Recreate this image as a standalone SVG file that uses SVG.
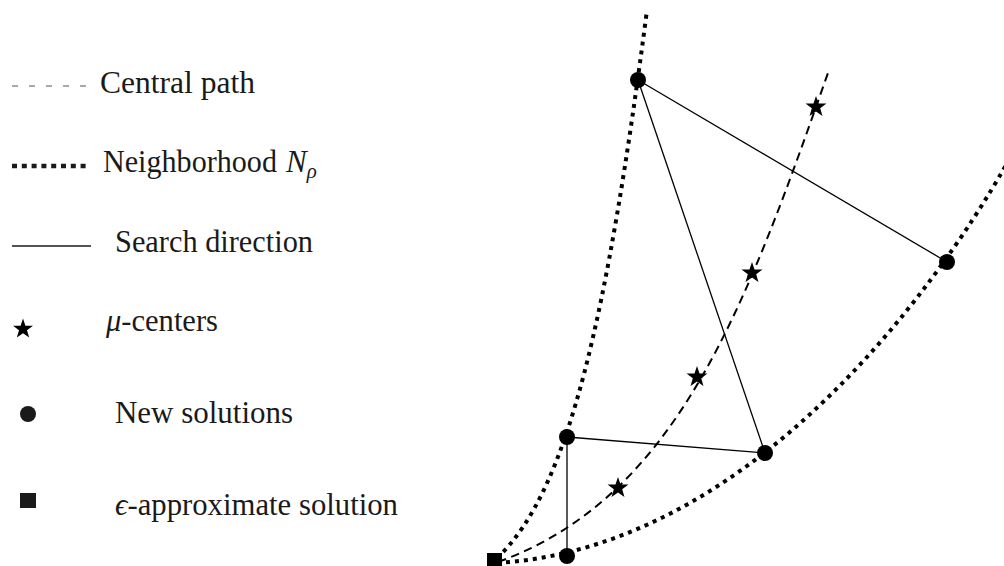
<svg xmlns="http://www.w3.org/2000/svg" width="1004" height="566" viewBox="0 0 1004 566">
<style>
text{font-family:"Liberation Serif","DejaVu Serif",serif;font-size:31px;fill:#1a1a1a}
.it{font-style:italic}
.dot{fill:none;stroke:#000;stroke-width:4;stroke-dasharray:4 5}
.dash{fill:none;stroke:#000;stroke-width:2;stroke-dasharray:8.5 5.5}
.sol{fill:none;stroke:#000;stroke-width:1.3}
.pt{fill:#000}
</style>
<defs>
<path id="star" d="M0,-10 L2.29,-3.16 9.51,-3.09 3.8,1.24 5.88,8.09 0,4 -5.88,8.09 -3.8,1.24 -9.51,-3.09 -2.29,-3.16Z"/>
</defs>
<rect width="1004" height="566" fill="#fff"/>
<g id="legend">
<line x1="12" y1="86" x2="88" y2="86" stroke="#555" stroke-width="1.2" stroke-dasharray="6 11"/>
<text x="100" y="93" textLength="155" lengthAdjust="spacingAndGlyphs">Central path</text>
<line x1="12" y1="166" x2="88" y2="166" stroke="#1a1a1a" stroke-width="4.5" stroke-dasharray="5 4.8"/>
<text x="103" y="172" textLength="174" lengthAdjust="spacingAndGlyphs">Neighborhood</text>
<text x="286" y="172"><tspan class="it">N</tspan><tspan class="it" font-size="21" dy="6">ρ</tspan></text>
<line x1="12" y1="246" x2="91" y2="246" stroke="#1a1a1a" stroke-width="1.5"/>
<text x="115" y="252" textLength="198" lengthAdjust="spacingAndGlyphs">Search direction</text>
<use href="#star" transform="translate(23,329) scale(1.05)" fill="#000"/>
<text x="106" y="331" textLength="112" lengthAdjust="spacingAndGlyphs"><tspan class="it">μ</tspan>-centers</text>
<circle cx="28" cy="414" r="8" fill="#1a1a1a"/>
<text x="115" y="423" textLength="178" lengthAdjust="spacingAndGlyphs">New solutions</text>
<rect x="20" y="493" width="16" height="15" fill="#1a1a1a"/>
<text x="115" y="515" textLength="283" lengthAdjust="spacingAndGlyphs"><tspan class="it">ϵ</tspan>-approximate solution</text>
</g>
<g id="connectors">
<path class="dot" d="M497,558 C570,490 608,310 647,10"/>
<path class="dot" d="M497,563 C747,548 932,295.5 1006,165"/>
<path class="dash" d="M498,562 C678,497 746.5,305 829,70"/>
<line class="sol" x1="638" y1="80" x2="947" y2="262"/>
<line class="sol" x1="638" y1="80" x2="765" y2="453"/>
<line class="sol" x1="567" y1="437" x2="765" y2="453"/>
<line class="sol" x1="567" y1="437" x2="567" y2="556"/>
</g>
<g id="p1"><circle class="pt" cx="638" cy="80" r="8"/></g>
<g id="p2"><circle class="pt" cx="947" cy="262" r="8"/></g>
<g id="p3"><circle class="pt" cx="765" cy="453" r="8"/></g>
<g id="p4"><circle class="pt" cx="567" cy="437" r="8"/></g>
<g id="p5"><circle class="pt" cx="567" cy="556" r="8"/></g>
<g id="sq"><rect class="pt" x="487" y="553" width="15" height="14"/></g>
<g id="s1"><use href="#star" transform="translate(816,107) scale(1.1)"/></g>
<g id="s2"><use href="#star" transform="translate(752,273) scale(1.1)"/></g>
<g id="s3"><use href="#star" transform="translate(697,377) scale(1.1)"/></g>
<g id="s4"><use href="#star" transform="translate(618,488) scale(1.1)"/></g>
</svg>
